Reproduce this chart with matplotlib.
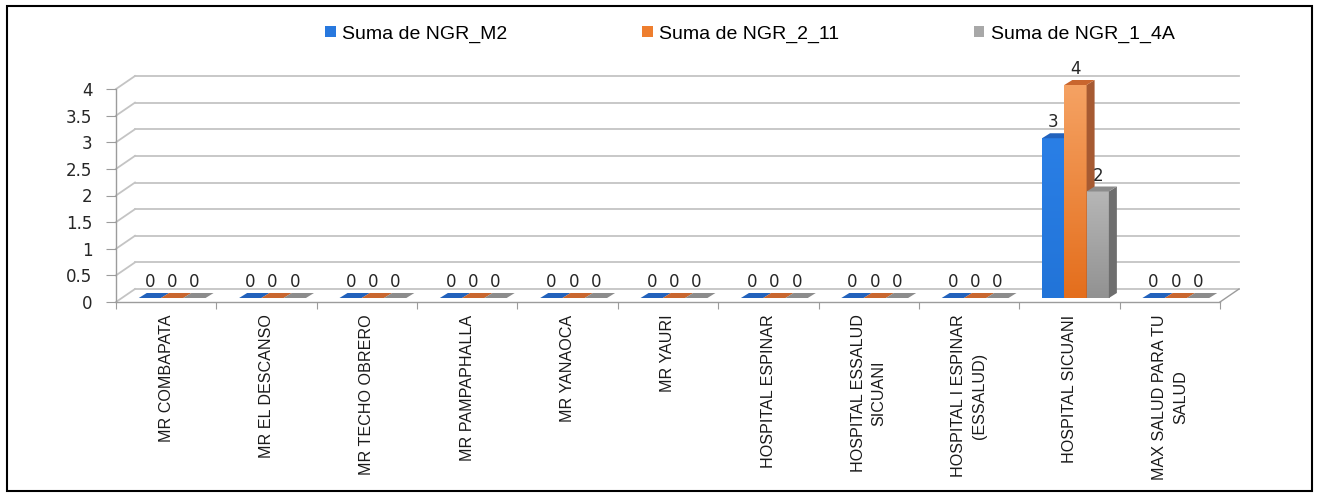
import numpy as np
import matplotlib.pyplot as plt
from matplotlib.patches import Polygon, Rectangle, Patch
from matplotlib.colors import LinearSegmentedColormap

# datos
categorias = ['MR COMBAPATA', 'MR EL DESCANSO', 'MR TECHO OBRERO', 'MR PAMPAPHALLA',
              'MR YANAOCA', 'MR YAURI', 'HOSPITAL ESPINAR', 'HOSPITAL ESSALUD\nSICUANI',
              'HOSPITAL I ESPINAR\n(ESSALUD)', 'HOSPITAL SICUANI', 'MAX SALUD PARA TU\nSALUD']
ngr_m2 = [0, 0, 0, 0, 0, 0, 0, 0, 0, 3, 0]
ngr_2_11 = [0, 0, 0, 0, 0, 0, 0, 0, 0, 4, 0]
ngr_1_4a = [0, 0, 0, 0, 0, 0, 0, 0, 0, 2, 0]
nombres = ['Suma de NGR_M2', 'Suma de NGR_2_11', 'Suma de NGR_1_4A']
yticks = [0, 0.5, 1, 1.5, 2, 2.5, 3, 3.5, 4]

# colores: (arriba, abajo) del frente, cara superior, cara lateral
c_frente = [('#2A7FE6', '#2274D8'), ('#F5A263', '#E46E1C'), ('#B6B6B6', '#929292')]
c_sup = ['#2262BC', '#C9662E', '#8C8C8C']
c_lat = ['#1D56A6', '#A65A32', '#6E6E6E']
c_leg = ['#2878DE', '#EE7E2E', '#A8A8A8']
gris_grid = '#C4C4C4'
gris_eje = '#9C9C9C'

fuente = ['Liberation Sans', 'DejaVu Sans']

W, H = 1319, 493
fig = plt.figure(figsize=(W / 100, H / 100), dpi=100)
ax = fig.add_axes([116 / W, (H - 302) / H, 1104 / W, 213 / H])
n = len(categorias)
ax.set_xlim(-0.5, n - 0.5)
ax.set_ylim(0, 4)

ppx = ax.bbox.width / n
ppy = ax.bbox.height / 4


def px(dx, dy):
    return dx / ppx, dy / ppy


wx, wy = px(19, 13)   # profundidad de la pared de fondo
bx, by = px(6, 4)     # desplazamiento de las barras
dx, dy = px(8, 5)     # profundidad de cada barra

# pared de fondo y pared lateral
for v in yticks:
    ax.plot([-0.5 + wx, n - 0.5 + wx], [v + wy, v + wy], color=gris_grid, lw=1.3,
            clip_on=False, zorder=1)
    ax.plot([-0.5, -0.5 + wx], [v, v + wy], color=gris_grid, lw=1.3, clip_on=False, zorder=1)
ax.plot([n - 0.5, n - 0.5 + wx], [0, wy], color=gris_eje, lw=1.0, clip_on=False, zorder=1)

# barras
w = 0.222
x = np.arange(n)
for k, vals in enumerate([ngr_m2, ngr_2_11, ngr_1_4a]):
    xs = x + (k - 1) * w + bx
    bars = ax.bar(xs, vals, w, bottom=by, color=c_frente[k][1], lw=0,
                  clip_on=False, zorder=3 + k)
    cm = LinearSegmentedColormap.from_list('g%d' % k, [c_frente[k][1], c_frente[k][0]])
    for b, v in zip(bars, vals):
        x0 = b.get_x()
        x1 = x0 + w
        bot = by
        top = by + v
        if v > 0:
            grad = np.linspace(0, 1, 100).reshape(-1, 1)
            im = ax.imshow(grad, cmap=cm, extent=[x0, x1, bot, top], origin='lower',
                           aspect='auto', zorder=3 + k, clip_on=False)
            im.set_clip_path(b)
            lat = Polygon([(x1, bot), (x1 + dx, bot + dy), (x1 + dx, top + dy), (x1, top)],
                          closed=True, fc=c_lat[k], lw=0, zorder=3 + k, clip_on=False)
            ax.add_patch(lat)
        sup = Polygon([(x0, top), (x1, top), (x1 + dx, top + dy), (x0 + dx, top + dy)],
                      closed=True, fc=c_sup[k], lw=0, zorder=3 + k, clip_on=False)
        ax.add_patch(sup)
        ax.annotate(str(v), (x0 + w / 2, top), xytext=(0, 11.5), textcoords='offset points',
                    ha='center', va='center', fontsize=12, color='#262626',
                    family='DejaVu Sans', annotation_clip=False, zorder=10)

ax.set_xlim(-0.5, n - 0.5)
ax.set_ylim(0, 4)

# ejes
for s in ['top', 'right']:
    ax.spines[s].set_visible(False)
for s in ['left', 'bottom']:
    ax.spines[s].set_color(gris_eje)
    ax.spines[s].set_linewidth(1.0)
ax.set_yticks(yticks)
ax.set_yticklabels([f'{t:g}' for t in yticks], family='DejaVu Sans')
ax.tick_params(axis='y', length=7, color=gris_eje, pad=10, labelsize=12, labelcolor='#262626')
ax.set_xticks(np.arange(-0.5, n, 1))
ax.set_xticklabels([])
ax.tick_params(axis='x', which='major', length=5, color=gris_eje)
ax.set_xticks(x, minor=True)
ax.set_xticklabels(categorias, minor=True, rotation=90, ha='center', va='top',
                   family=fuente, fontsize=11.6, linespacing=1.5, color='#1a1a1a')
ax.tick_params(axis='x', which='minor', length=0, pad=9)
ax.set_facecolor('none')

# leyenda
handles = [Patch(fc=c, ec='none') for c in c_leg]
fig.legend(handles, nombres, ncol=3, loc='center', bbox_to_anchor=(750 / W, 1 - 34 / H),
           frameon=False, handlelength=0.55, handleheight=0.55, handletextpad=0.35,
           columnspacing=6.9, prop={'family': fuente, 'size': 14})

# marco
fig.add_artist(Rectangle((7 / W, 2 / H), (1312 - 7) / W, (487 - 2) / H, transform=fig.transFigure,
                         fill=False, ec='black', lw=1.5))

fig.savefig('out.png', dpi=100)
